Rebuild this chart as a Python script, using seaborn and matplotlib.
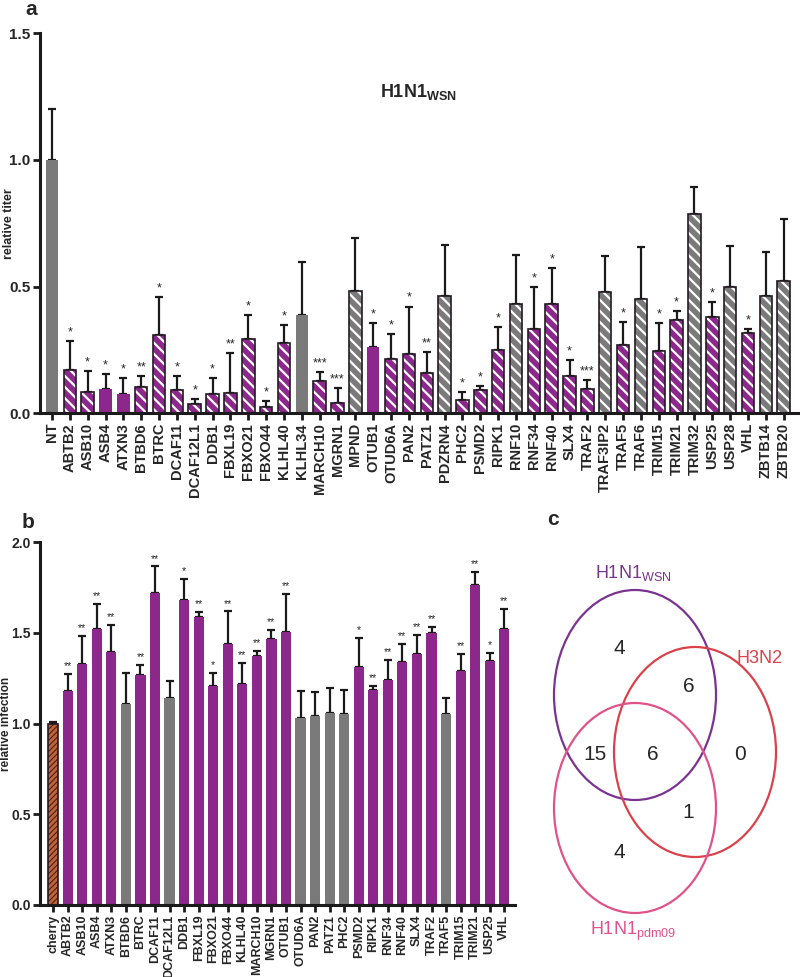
import numpy as np
import seaborn as sns
import matplotlib.pyplot as plt
from matplotlib.patches import Ellipse

# -------------------------
# Data: panel a (relative titer, H1N1 WSN)
# -------------------------
genes_a = ["NT", "ABTB2", "ASB10", "ASB4", "ATXN3", "BTBD6", "BTRC", "DCAF11",
           "DCAF12L1", "DDB1", "FBXL19", "FBXO21", "FBXO44", "KLHL40", "KLHL34",
           "MARCH10", "MGRN1", "MPND", "OTUB1", "OTUD6A", "PAN2", "PATZ1",
           "PDZRN4", "PHC2", "PSMD2", "RIPK1", "RNF10", "RNF34", "RNF40", "SLX4",
           "TRAF2", "TRAF3IP2", "TRAF5", "TRAF6", "TRIM15", "TRIM21", "TRIM32",
           "USP25", "USP28", "VHL", "ZBTB14", "ZBTB20"]
titer = [1.0, 0.169, 0.083, 0.097, 0.077, 0.103, 0.308, 0.093,
         0.036, 0.077, 0.079, 0.294, 0.024, 0.276, 0.387,
         0.128, 0.041, 0.482, 0.263, 0.216, 0.235, 0.159,
         0.463, 0.053, 0.093, 0.249, 0.433, 0.333, 0.430, 0.149,
         0.095, 0.479, 0.269, 0.452, 0.247, 0.370, 0.786,
         0.378, 0.497, 0.315, 0.463, 0.524]
titer_sd = [0.20, 0.117, 0.082, 0.058, 0.062, 0.043, 0.152, 0.055,
            0.020, 0.062, 0.160, 0.094, 0.024, 0.072, 0.211,
            0.036, 0.057, 0.208, 0.094, 0.096, 0.186, 0.082,
            0.201, 0.029, 0.015, 0.091, 0.192, 0.164, 0.143, 0.060,
            0.037, 0.141, 0.092, 0.204, 0.110, 0.033, 0.107,
            0.062, 0.163, 0.017, 0.174, 0.242]
stars_a = ["", "*", "*", "*", "*", "**", "*", "*",
           "*", "*", "**", "*", "*", "*", "",
           "***", "***", "", "*", "*", "*", "**",
           "", "*", "*", "*", "", "*", "*", "*",
           "***", "", "*", "", "*", "*", "",
           "*", "", "*", "", ""]
# ctrl = grey solid, hit = purple solid, hit_h = purple hatched, ns_h = grey hatched
group_a = ["ctrl", "hit_h", "hit_h", "hit", "hit", "hit_h", "hit_h", "hit_h",
           "hit_h", "hit_h", "hit_h", "hit_h", "hit_h", "hit_h", "ctrl",
           "hit_h", "hit_h", "ns_h", "hit", "hit_h", "hit_h", "hit_h",
           "ns_h", "hit_h", "hit_h", "hit_h", "ns_h", "hit_h", "hit_h", "hit_h",
           "hit_h", "ns_h", "hit_h", "ns_h", "hit_h", "hit_h", "ns_h",
           "hit_h", "ns_h", "hit_h", "ns_h", "ns_h"]

# -------------------------
# Data: panel b (relative infection)
# -------------------------
genes_b = ["cherry", "ABTB2", "ASB10", "ASB4", "ATXN3", "BTBD6", "BTRC", "DCAF11",
           "DCAF12L1", "DDB1", "FBXL19", "FBXO21", "FBXO44", "KLHL40", "MARCH10",
           "MGRN1", "OTUB1", "OTUD6A", "PAN2", "PATZ1", "PHC2", "PSMD2", "RIPK1",
           "RNF34", "RNF40", "SLX4", "TRAF2", "TRAF5", "TRIM15", "TRIM21",
           "USP25", "VHL"]
infection = [0.998, 1.178, 1.327, 1.523, 1.393, 1.110, 1.266, 1.721,
             1.143, 1.683, 1.587, 1.205, 1.439, 1.217, 1.371,
             1.468, 1.506, 1.028, 1.042, 1.059, 1.055, 1.312, 1.183,
             1.242, 1.341, 1.382, 1.501, 1.053, 1.288, 1.763,
             1.343, 1.523]
infection_sd = [0.012, 0.094, 0.156, 0.138, 0.148, 0.169, 0.055, 0.145,
                0.092, 0.115, 0.028, 0.075, 0.179, 0.117, 0.027,
                0.049, 0.210, 0.150, 0.132, 0.137, 0.132, 0.158, 0.023,
                0.107, 0.099, 0.104, 0.031, 0.088, 0.094, 0.072,
                0.046, 0.110]
stars_b = ["", "**", "**", "**", "**", "", "**", "**",
           "", "*", "**", "*", "**", "**", "**",
           "**", "**", "", "", "", "", "*", "**",
           "**", "**", "**", "**", "", "**", "**",
           "*", "**"]
group_b = ["cherry", "hit", "hit", "hit", "hit", "ctrl", "hit", "hit",
           "ctrl", "hit", "hit", "hit", "hit", "hit", "hit",
           "hit", "hit", "ctrl", "ctrl", "ctrl", "ctrl", "hit", "hit",
           "hit", "hit", "hit", "hit", "ctrl", "hit", "hit",
           "hit", "hit"]

# -------------------------
# Data: panel c (Venn counts)
# -------------------------
venn_sets = ["H1N1$_{\\mathregular{WSN}}$", "H3N2", "H1N1$_{\\mathregular{pdm09}}$"]
venn_counts = [4, 6, 15, 6, 0, 1, 4]

# -------------------------
# Style
# -------------------------
PURPLE = "#8C278B"
GREY = "#7A7A7A"
STYLE = {
    "ctrl": (GREY, None),
    "hit": (PURPLE, None),
    "hit_h": (PURPLE, "\\\\\\"),
    "ns_h": (GREY, "\\\\\\"),
    "cherry": ("#C0623A", "//////"),
}

sns.set_style("ticks")
plt.rcParams["font.family"] = ["Liberation Sans", "DejaVu Sans"]
plt.rcParams["mathtext.fontset"] = "custom"
plt.rcParams["mathtext.rm"] = "Liberation Sans"
plt.rcParams["mathtext.bf"] = "Liberation Sans:bold"
plt.rcParams["hatch.linewidth"] = 1.6


def bar_panel(ax, names, values, sd, stars, groups, label_size, star_size):
    values = np.array(values)
    sd = np.array(sd)
    palette = [STYLE[g][0] for g in groups]
    sns.barplot(x=names, y=values, hue=names, palette=palette, legend=False,
                width=0.7, saturation=1, errorbar=None, ax=ax, zorder=2)
    x = np.arange(len(names))
    hatched = np.array([STYLE[g][1] is not None for g in groups])
    for p, g in zip(ax.patches, groups):
        hatch = STYLE[g][1]
        p.set_linewidth(0)
        if hatch:
            p.set_hatch(hatch)
            hc = "#3a1a10" if g == "cherry" else "white"
            p.set_edgecolor(hc)
            if hasattr(p, "set_hatchcolor"):
                p.set_hatchcolor(hc)
            if g == "cherry" and hasattr(p, "set_hatch_linewidth"):
                p.set_hatch_linewidth(0.7)
    ax.bar(x[hatched], values[hatched], width=0.7, fill=False,
           edgecolor="#231a23", linewidth=1.2, zorder=3)
    ax.errorbar(x, values, yerr=[np.zeros_like(sd), sd], fmt="none",
                ecolor="#1a1a1a", elinewidth=1.6, capsize=2.6, capthick=1.6,
                zorder=1.5)
    for xi, v, s, st in zip(x, values, sd, stars):
        if st:
            ax.annotate(st, (xi, v + s), xytext=(0, 2), textcoords="offset points",
                        ha="center", va="bottom", fontsize=star_size)
    ax.set_xticks(x)
    ax.set_xticklabels(names, rotation=90, fontweight="bold", fontsize=label_size)
    sns.despine(ax=ax)
    for side in ["left", "bottom"]:
        ax.spines[side].set_linewidth(2.2)
        ax.spines[side].set_color("#1a1a1a")
    ax.tick_params(width=2, length=5, color="#1a1a1a", pad=2)
    ax.set_xlabel("")


fig = plt.figure(figsize=(8, 9.77), dpi=100)

# panel a
ax_a = fig.add_axes([0.05, 0.577, 0.9475, 0.389])
bar_panel(ax_a, genes_a, titer, titer_sd, stars_a, group_a, 10.5, 9)
ax_a.set_xlim(-0.67, 41.8)
ax_a.set_ylim(0, 1.5)
ax_a.set_yticks([0.0, 0.5, 1.0, 1.5])
ax_a.set_yticklabels(["0.0", "0.5", "1.0", "1.5"], fontweight="bold", fontsize=11)
ax_a.set_ylabel("relative titer", fontweight="bold", fontsize=9)
ax_a.yaxis.set_label_coords(-0.0335, 0.5)
fig.text(0.475, 1 - 97 / 977, "H1N1$_{\\mathbf{WSN}}$", fontsize=13,
         fontweight="bold", va="baseline")

# panel b
ax_b = fig.add_axes([0.05, 0.0737, 0.594, 0.3715])
bar_panel(ax_b, genes_b, infection, infection_sd, stars_b, group_b, 9, 7.5)
ax_b.set_xlim(-0.9, 31.75)
ax_b.set_ylim(0, 2.0)
ax_b.set_yticks([0.0, 0.5, 1.0, 1.5, 2.0])
ax_b.set_yticklabels(["0.0", "0.5", "1.0", "1.5", "2.0"], fontweight="bold", fontsize=10)
ax_b.tick_params(axis="y", pad=1.5)
ax_b.set_ylabel("relative infection", fontweight="bold", fontsize=8.5)
ax_b.yaxis.set_label_coords(-0.059, 0.5)

# panel c (Venn)
ax_c = fig.add_axes([540 / 800, 0, 260 / 800, 417 / 977])
ax_c.set_xlim(540, 800)
ax_c.set_ylim(977, 560)
ax_c.axis("off")
venn_colors = ["#7A3390", "#D9424B", "#E0528A"]
venn_centers = [(635, 695), (695, 752), (635, 808)]
for (cx, cy), col in zip(venn_centers, venn_colors):
    ax_c.add_patch(Ellipse((cx, cy), 162, 210, fill=False, edgecolor=col, linewidth=1.6))
count_pos = [(619, 649), (689, 687), (595, 754), (653, 754), (740, 754), (688, 812), (619, 852)]
for (px, py), n in zip(count_pos, venn_counts):
    ax_c.text(px, py, str(n), ha="center", va="center", fontsize=15)
label_pos = [(595, 578), (737, 663), (590, 935)]
for (px, py), name, col in zip(label_pos, venn_sets, venn_colors):
    ax_c.text(px, py, name, ha="left", va="baseline", fontsize=13, color=col)

# panel letters
for px, py, letter in [(25, 0, "a"), (22, 513, "b"), (547, 510, "c")]:
    fig.text(px / 800, 1 - py / 977, letter, fontsize=15, fontweight="bold", va="top")

fig.savefig("out.png", dpi=100)
